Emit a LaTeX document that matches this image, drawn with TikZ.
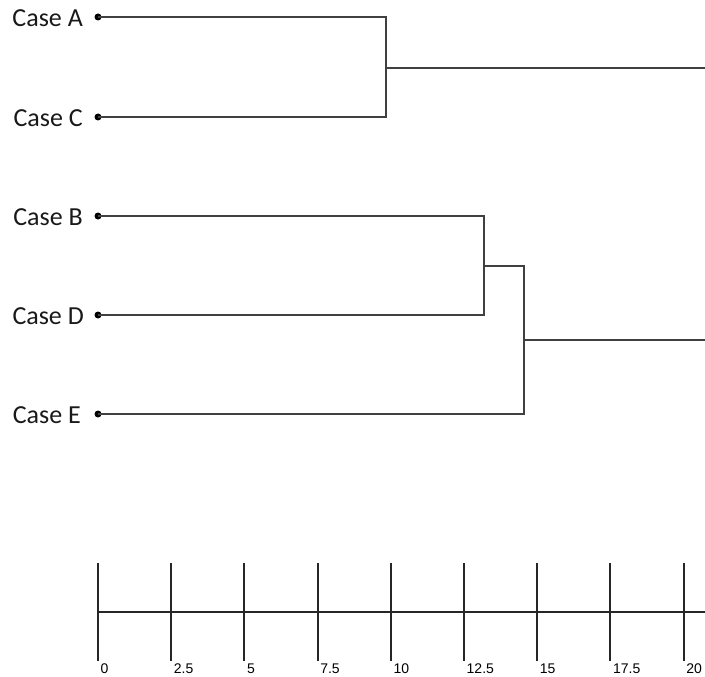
\documentclass[tikz,border=0pt]{standalone}
\usepackage{fontspec}
\setmainfont{Carlito}
\newfontfamily\axisfont{Liberation Sans}
\begin{document}
\begin{tikzpicture}[x=1pt,y=-1pt,
  leaf/.style={circle,fill=black,inner sep=0pt,minimum size=7pt},
  caselabel/.style={anchor=east,inner sep=0pt,font=\fontsize{26}{30}\selectfont,text=black!90},
  branch/.style={draw=black!75,line width=2pt},
  axisline/.style={draw=black!85,line width=2pt},
  ticklabel/.style={anchor=north west,inner sep=0pt,font=\axisfont\fontsize{14}{16}\selectfont,text=black}]
\useasboundingbox (0,0) rectangle (705,677);
% leaves
\node[leaf] (a) at (98,17) {};
\node[leaf] (c) at (98,117) {};
\node[leaf] (b) at (98,216) {};
\node[leaf] (d) at (98,315) {};
\node[leaf] (e) at (98,414) {};
\node[caselabel] (la) at (83,18.5) {Case A};
\node[caselabel] (lc) at (83,118.5) {Case C};
\node[caselabel] (lb) at (83,217.5) {Case B};
\node[caselabel] (ld) at (84,316.5) {Case D};
\node[caselabel] (le) at (81,415.5) {Case E};
% merge points
\coordinate (ac) at (386,68);
\coordinate (acend) at (705,68);
\coordinate (bd) at (484,266);
\coordinate (bde) at (524,340);
\coordinate (bdeend) at (705,340);
% dendrogram
\draw[branch] (a.center) -| (ac) |- (c.center);
\draw[branch] (ac) -- (acend);
\draw[branch] (b.center) -| (bd) |- (d.center);
\draw[branch] (bd) -- (bd -| bde) -- (bde) |- (e.center);
\draw[branch] (bde) -- (bdeend);
% axis
\coordinate (ax0) at (98,612);
\coordinate (axend) at (705,612);
\draw[axisline] (ax0) -- (axend);
\foreach \i/\lab in {0/0,1/2.5,2/5,3/7.5,4/10,5/12.5,6/15,7/17.5,8/20}{
  \coordinate (t\i) at ({98+73.2*\i},563);
  \coordinate (b\i) at ({98+73.2*\i},661);
  \draw[axisline] (t\i) -- (b\i);
  \node[ticklabel] (l\i) at ({100.5+73.2*\i},664) {\lab};
}
\end{tikzpicture}
\end{document}
